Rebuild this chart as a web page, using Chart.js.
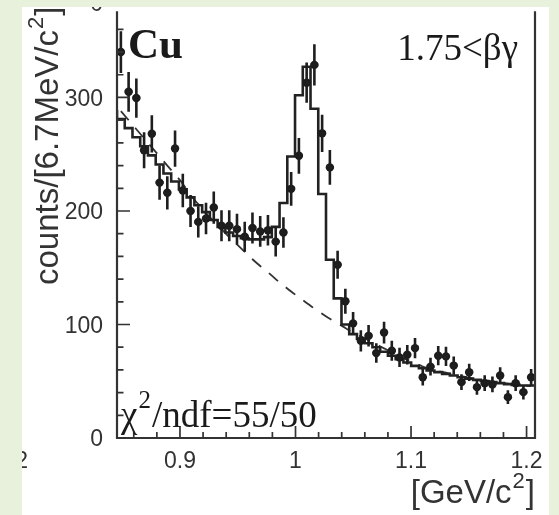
<!DOCTYPE html>
<html>
<head>
<meta charset="utf-8">
<script src="https://cdn.jsdelivr.net/npm/chart.js@4.4.1/dist/chart.umd.min.js"></script>
<style>
  html, body { margin: 0; padding: 0; }
  body { width: 559px; height: 515px; background: #e8f1dc; overflow: hidden; position: relative; }
  #panel { position: absolute; left: 22px; top: 7px; width: 527px; height: 508px; background: #fff; }
  #mass-chart { display: block; }
</style>
</head>
<body>
<div id="panel"><canvas id="mass-chart" width="527" height="508"></canvas></div>
<script>
// K+K- invariant mass, Cu target, 1.75 < beta*gamma
const binLow = 0.8455;
const binWidth = 0.0067;

const counts = [340, 305, 299.5, 253.5, 268, 225, 216, 255, 218, 200,
  190.4, 193.3, 203, 187, 187, 184, 177.3, 185, 182, 183,
  173, 181, 219.5, 248.6, 313, 328.7, 268.4, 238.4, 152.6, 120.5,
  101, 85.6, 90, 74.8, 92.9, 76.9, 71, 73.4, 79.2, 53.5,
  62.9, 72.5, 71.9, 63.8, 49.2, 57.9, 44.8, 48.3, 47.2, 55,
  36, 48.3, 40.4, 53.5];

const errors = [18.4, 17.5, 17.3, 15.9, 16.4, 15, 14.7, 16, 14.8, 14.1,
  13.8, 13.9, 14.2, 13.7, 13.7, 13.6, 13.3, 13.6, 13.5, 13.5,
  13.2, 13.5, 14.8, 15.8, 17.7, 18.1, 16.4, 15.4, 12.4, 11,
  10, 9.3, 9.5, 8.6, 9.6, 8.8, 8.4, 8.6, 8.9, 7.3,
  7.9, 8.5, 8.5, 8, 7, 7.6, 6.7, 7, 6.9, 7.4,
  6, 7, 6.4, 7.3];

// total fit, per bin
const fitCounts = [289, 281, 273, 265, 257, 249, 241, 233, 226, 219,
  212, 205, 199, 192, 186, 181, 178, 176, 175, 175,
  177, 186, 207, 248, 302, 327, 290, 215, 157, 123,
  100, 91.5, 87.5, 83.5, 80, 76, 72.5, 69.5, 66.5, 63.5,
  61.5, 59.5, 58, 56.5, 55, 53.5, 52.3, 51.2, 50.2, 49.2,
  48.3, 47.5, 46.8, 46.2];

// background part of the fit
const bgCounts = [288, 280, 272, 264, 256, 248, 240, 232, 224, 214,
  206, 198, 191, 184, 177, 170.5, 164, 157.5, 151.5, 146,
  140, 134.5, 129, 124, 119, 114, 109.5, 105, 101, 97,
  92.5, 89.5, 86, 82.5, 79, 75.5, 72, 69, 66, 63,
  61, 59, 57.5, 56, 54.5, 53, 51.8, 50.7, 49.7, 48.7,
  47.8, 47, 46.3, 45.7];

const xTicks = [0.9, 1, 1.1, 1.2];
const xTickLabels = ['0.9', '1', '1.1', '1.2'];
const yTicks = [0, 100, 200, 300];
const yTickLabels = ['0', '100', '200', '300'];

const nBins = counts.length;
const binCenters = counts.map((_, i) => binLow + (i + 0.5) * binWidth);
const binEdges = [...counts.map((_, i) => binLow + i * binWidth), binLow + nBins * binWidth];

const ink = '#333';
const SANS = '"Liberation Sans", Arial, sans-serif';
const SERIF = '"Liberation Serif", "Times New Roman", serif';

const errorBars = {
  id: 'errorBars',
  afterDatasetsDraw(chart) {
    const {ctx, scales: {x, y}} = chart;
    ctx.save();
    ctx.strokeStyle = '#1e1e1e';
    ctx.lineWidth = 2.6;
    const half = (x.getPixelForValue(binWidth) - x.getPixelForValue(0)) / 2;
    counts.forEach((c, i) => {
      const px = x.getPixelForValue(binCenters[i]);
      ctx.beginPath();
      ctx.moveTo(px, y.getPixelForValue(c - errors[i]));
      ctx.lineTo(px, y.getPixelForValue(c + errors[i]));
      ctx.moveTo(px - half, y.getPixelForValue(c));
      ctx.lineTo(px + half, y.getPixelForValue(c));
      ctx.stroke();
    });
    ctx.restore();
  }
};

const rootAxes = {
  id: 'rootAxes',
  afterDraw(chart) {
    const {ctx, chartArea: a, scales: {x, y}} = chart;
    ctx.save();
    ctx.strokeStyle = ink;
    ctx.lineWidth = 2.2;
    ctx.beginPath();
    ctx.moveTo(a.left, a.top);
    ctx.lineTo(a.left, a.bottom);
    ctx.lineTo(a.right, a.bottom);
    ctx.lineTo(a.right, a.top);
    ctx.stroke();

    // inward ticks
    ctx.lineWidth = 1.7;
    ctx.beginPath();
    for (let v = 0; v <= 360; v += 20) {
      const py = y.getPixelForValue(v);
      const len = v % 100 === 0 ? 13 : 6.5;
      ctx.moveTo(a.left, py);
      ctx.lineTo(a.left + len, py);
    }
    for (let k = 43; k <= 60; k++) {
      const v = k * 0.02;
      const px = x.getPixelForValue(v);
      if (px < a.left || px > a.right) continue;
      const len = k % 5 === 0 ? 12 : 6;
      ctx.moveTo(px, a.bottom);
      ctx.lineTo(px, a.bottom - len);
    }
    ctx.stroke();

    // tick labels
    ctx.fillStyle = ink;
    ctx.font = '23px ' + SANS;
    ctx.textAlign = 'right';
    ctx.textBaseline = 'middle';
    yTicks.forEach((v, i) => ctx.fillText(yTickLabels[i], 81, y.getPixelForValue(v) + 2));
    ctx.fillText('0', 81, -2);
    ctx.textAlign = 'center';
    xTicks.forEach((v, i) => ctx.fillText(xTickLabels[i], x.getPixelForValue(v), 455));
    ctx.textAlign = 'right';
    ctx.fillText('1.2', 6, 455);

    // axis titles
    ctx.textAlign = 'left';
    ctx.textBaseline = 'alphabetic';
    ctx.save();
    ctx.translate(36, 278);
    ctx.rotate(-Math.PI / 2);
    ctx.font = '33px ' + SANS;
    const yt = 'counts/[6.7MeV/c';
    const w1 = ctx.measureText(yt).width;
    ctx.fillText(yt, 0, 0);
    ctx.font = '22px ' + SANS;
    ctx.fillText('2', w1 + 1, -15);
    const w2 = ctx.measureText('2').width;
    ctx.font = '33px ' + SANS;
    ctx.fillText(']', w1 + w2 + 2, 0);
    ctx.restore();

    ctx.font = '33px ' + SANS;
    const xt = '[GeV/c';
    const xw1 = ctx.measureText(xt).width;
    const xw3 = ctx.measureText(']').width;
    ctx.font = '22px ' + SANS;
    const xw2 = ctx.measureText('2').width;
    let sx = a.right - (xw1 + xw2 + xw3 + 2);
    ctx.font = '33px ' + SANS;
    ctx.fillText(xt, sx, 496);
    ctx.font = '22px ' + SANS;
    ctx.fillText('2', sx + xw1 + 1, 481);
    ctx.font = '33px ' + SANS;
    ctx.fillText(']', sx + xw1 + xw2 + 2, 496);

    // pad labels
    ctx.fillStyle = '#1a1a1a';
    ctx.font = 'bold 43px ' + SERIF;
    ctx.fillText('Cu', 106, 51);
    ctx.font = '37px ' + SERIF;
    ctx.textAlign = 'right';
    ctx.fillText('1.75<βγ', 496, 53);
    ctx.textAlign = 'left';
    ctx.font = '37px ' + SERIF;
    const chi = 'χ';
    const cw = ctx.measureText(chi).width;
    ctx.fillText(chi, 99, 420);
    ctx.font = '25px ' + SERIF;
    ctx.fillText('2', 99 + cw + 1, 401);
    const sw = ctx.measureText('2').width;
    ctx.font = '37px ' + SERIF;
    ctx.fillText('/ndf=55/50', 99 + cw + sw + 2, 420);
    ctx.restore();
  }
};

new Chart(document.getElementById('mass-chart'), {
  type: 'scatter',
  data: {
    datasets: [
      {
        type: 'scatter',
        data: counts.map((c, i) => ({x: binCenters[i], y: c})),
        pointRadius: 4.2,
        pointBackgroundColor: '#1a1a1a',
        pointBorderWidth: 0,
        order: 0
      },
      {
        type: 'line',
        data: [...fitCounts, fitCounts[nBins - 1]].map((v, i) => ({x: binEdges[i], y: v})),
        stepped: 'after',
        borderColor: '#222',
        borderWidth: 2.6,
        pointRadius: 0,
        fill: false,
        order: 1
      },
      {
        type: 'line',
        data: bgCounts.map((v, i) => ({x: binCenters[i], y: v})),
        borderColor: '#333',
        borderWidth: 1.8,
        borderDash: [12, 10],
        cubicInterpolationMode: 'monotone',
        pointRadius: 0,
        fill: false,
        order: 2
      }
    ]
  },
  options: {
    responsive: false,
    animation: false,
    layout: {padding: {left: 95, right: 14, top: 0, bottom: 77}},
    plugins: {legend: {display: false}, tooltip: {enabled: false}},
    scales: {
      x: {type: 'linear', min: binLow, max: binLow + nBins * binWidth, display: false},
      y: {min: 0, max: 376, display: false}
    }
  },
  plugins: [errorBars, rootAxes]
});
</script>
</body>
</html>
